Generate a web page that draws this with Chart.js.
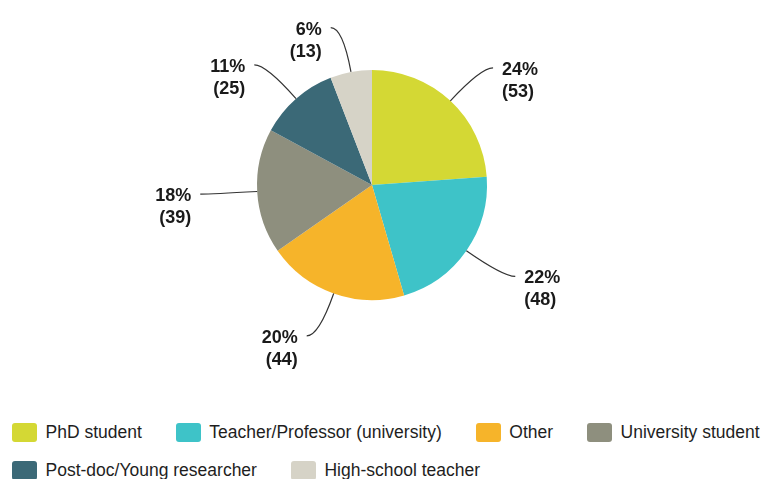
<!DOCTYPE html>
<html>
<head>
<meta charset="utf-8">
<script src="https://cdn.jsdelivr.net/npm/chart.js@4.4.0/dist/chart.umd.min.js"></script>
<style>
  html, body { margin: 0; padding: 0; background: #fff; overflow: hidden; }
  #wrap { position: relative; width: 763px; height: 479px; }
  #chart-box { position: absolute; left: 0; top: 0; width: 763px; height: 400px; }
  #legend {
    position: absolute; left: 12px; top: 423px; width: 751px;
    display: flex; flex-wrap: wrap; column-gap: 34px; row-gap: 18.5px;
    font-family: "Liberation Sans", Arial, sans-serif; font-size: 17.5px; color: #1e1e1e;
  }
  .item { display: flex; align-items: center; height: 19px; white-space: nowrap; }
  .swatch { width: 25px; height: 19px; border-radius: 3px; margin-right: 8.5px; }
</style>
</head>
<body>
<div id="wrap">
  <div id="chart-box"><canvas id="pie"></canvas></div>
  <div id="legend"></div>
</div>
<script>
// Respondent categories and counts
const categories = ['PhD student', 'Teacher/Professor (university)', 'Other', 'University student', 'Post-doc/Young researcher', 'High-school teacher'];
const counts = [53, 48, 44, 39, 25, 13];
const sliceColors = ['#d4d834', '#3ec3c8', '#f6b42a', '#8e8f7e', '#3b6977', '#d6d3c7'];

// Draws "xx%\n(n)" labels with curved leader lines outside each slice
const leaderLabels = {
  id: 'leaderLabels',
  afterDatasetsDraw(chart) {
    const ctx = chart.ctx;
    const meta = chart.getDatasetMeta(0);
    const data = chart.data.datasets[0].data;
    const total = data.reduce((a, b) => a + b, 0);

    ctx.save();
    meta.data.forEach((arc, i) => {
      const mid = (arc.startAngle + arc.endAngle) / 2;
      const dx = Math.cos(mid);
      const dy = Math.sin(mid);
      const r = arc.outerRadius;
      const side = dx >= 0 ? 1 : -1;

      const x0 = arc.x + r * dx, y0 = arc.y + r * dy;
      const x1 = arc.x + (r + 45) * dx, y1 = arc.y + (r + 45) * dy;
      const x2 = x1 + side * 12, y2 = y1;

      ctx.strokeStyle = '#333';
      ctx.lineWidth = 1.2;
      ctx.beginPath();
      ctx.moveTo(x0, y0);
      ctx.quadraticCurveTo(x1, y1, x2, y2);
      ctx.stroke();

      const pct = Math.round(data[i] / total * 100) + '%';
      ctx.fillStyle = '#1a1a1a';
      ctx.font = 'bold 18px "Liberation Sans", Arial, sans-serif';
      ctx.textBaseline = 'middle';
      ctx.textAlign = side > 0 ? 'left' : 'right';
      const tx = x2 + side * 9;
      ctx.fillText(pct, tx, y2 + 2);
      ctx.fillText('(' + data[i] + ')', tx, y2 + 24);
    });
    ctx.restore();
  }
};

new Chart(document.getElementById('pie'), {
  type: 'pie',
  data: {
    labels: categories,
    datasets: [{
      data: counts,
      backgroundColor: sliceColors,
      borderWidth: 0,
      hoverOffset: 0
    }]
  },
  options: {
    responsive: true,
    maintainAspectRatio: false,
    animation: false,
    layout: { padding: { left: 257, right: 276, top: 70, bottom: 100 } },
    plugins: {
      legend: { display: false },
      tooltip: { enabled: false }
    }
  },
  plugins: [leaderLabels]
});

// Legend built from the same arrays
const legendEl = document.getElementById('legend');
categories.forEach((name, i) => {
  const item = document.createElement('div');
  item.className = 'item';
  item.innerHTML = `<span class="swatch" style="background:${sliceColors[i]}"></span><span>${name}</span>`;
  legendEl.appendChild(item);
});
</script>
</body>
</html>
